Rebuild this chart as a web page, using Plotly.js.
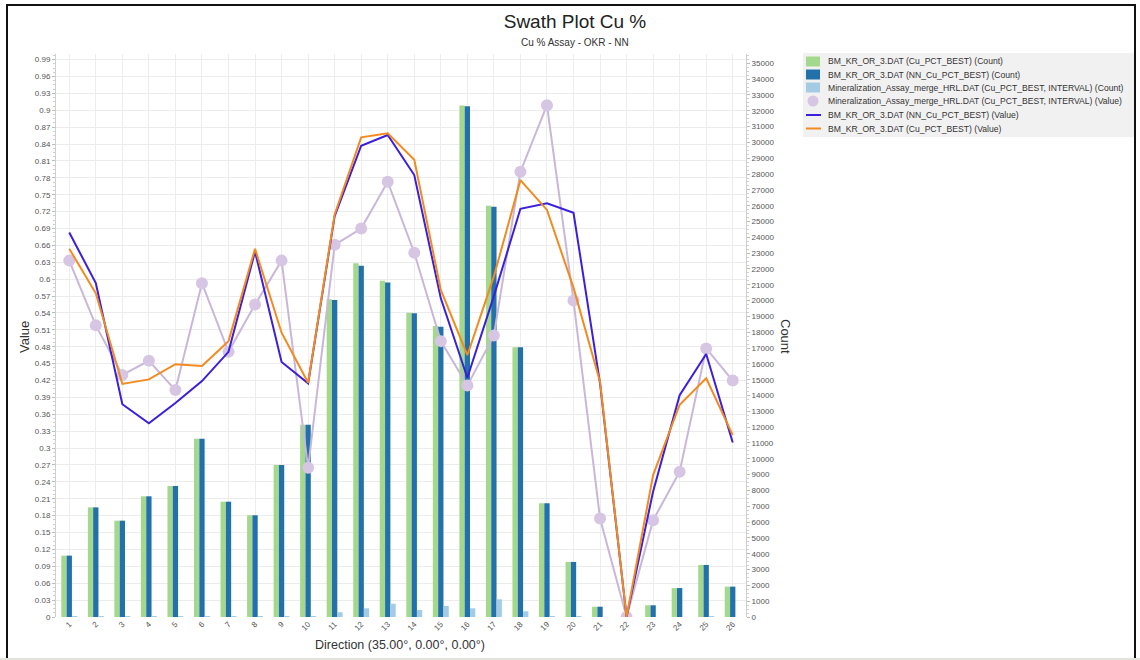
<!DOCTYPE html>
<html>
<head>
<meta charset="utf-8">
<script src="https://cdn.plot.ly/plotly-3.0.1.min.js"></script>
<style>
  html, body { margin: 0; padding: 0; background: #ffffff; }
  #wrap { position: relative; width: 1140px; height: 660px; overflow: hidden; }
  #chart { position: absolute; left: 0; top: 0; width: 1140px; height: 660px; }
  #frame { position: absolute; left: 6px; top: 4px; width: 1126px; height: 670px;
           border-left: 2px solid #111; border-top: 2px solid #111; border-right: 2px solid #111;
           pointer-events: none; }
  #foot { position: absolute; left: 0; bottom: 0; width: 1140px; height: 2px; background: #e4e2dc; }
</style>
</head>
<body>
<div id="wrap">
  <div id="chart"></div>
  <div id="frame"></div>
  <div id="foot"></div>
</div>
<script>
// Swath directions (bins along 35.00°, 0.00°, 0.00°)
const directions = [1, 2, 3, 4, 5, 6, 7, 8, 9, 10, 11, 12, 13, 14, 15, 16, 17, 18, 19, 20, 21, 22, 23, 24, 25, 26];
const directionLabels = directions.map(String);

// Sample counts per swath (right axis)
const countBest = [3880, 6930, 6090, 7630, 8280, 11270, 7290, 6430, 9610, 12160, 20080, 22360, 21260, 19240, 18390, 32340, 26000, 17050, 7190, 3480, 650, 0, 740, 1830, 3290, 1920];
const countNN = [3880, 6930, 6090, 7630, 8280, 11270, 7290, 6430, 9610, 12160, 20040, 22210, 21150, 19200, 18350, 32280, 25940, 17050, 7190, 3480, 650, 0, 740, 1830, 3290, 1920];
const countAssay = [50, 50, 40, 50, 50, 40, 50, 50, 50, 50, 300, 550, 840, 440, 700, 550, 1120, 360, 40, 20, 0, 0, 0, 0, 20, 0];

// Mean Cu % per swath (left axis)
const valueAssay = [0.633, 0.518, 0.430, 0.455, 0.403, 0.593, 0.471, 0.555, 0.633, 0.265, 0.661, 0.690, 0.773, 0.647, 0.490, 0.411, 0.500, 0.791, 0.909, 0.562, 0.175, 0, 0.172, 0.258, 0.477, 0.420];
const valueNN = [0.683, 0.593, 0.378, 0.344, 0.380, 0.419, 0.471, 0.649, 0.453, 0.415, 0.712, 0.837, 0.856, 0.785, 0.566, 0.425, 0.570, 0.725, 0.735, 0.718, 0.415, 0, 0.223, 0.394, 0.467, 0.310];
const valueBest = [0.654, 0.575, 0.414, 0.422, 0.449, 0.446, 0.490, 0.654, 0.505, 0.416, 0.715, 0.852, 0.859, 0.812, 0.581, 0.465, 0.605, 0.776, 0.723, 0.585, 0.418, 0, 0.252, 0.377, 0.424, 0.323];

const seriesNames = [
  'BM_KR_OR_3.DAT (Cu_PCT_BEST) (Count)',
  'BM_KR_OR_3.DAT (NN_Cu_PCT_BEST) (Count)',
  'Mineralization_Assay_merge_HRL.DAT (Cu_PCT_BEST, INTERVAL) (Count)',
  'Mineralization_Assay_merge_HRL.DAT (Cu_PCT_BEST, INTERVAL) (Value)',
  'BM_KR_OR_3.DAT (NN_Cu_PCT_BEST) (Value)',
  'BM_KR_OR_3.DAT (Cu_PCT_BEST) (Value)'
];

const C_GREEN = '#a4d88c';
const C_BLUE = '#2271aa';
const C_LIGHT = '#a3cbe4';
const C_LAV = '#d6c6e4';
const C_LAVLINE = '#c9b7da';
const C_NN = '#3a1fdc';
const C_ORANGE = '#f28a1e';

const FONT = 'Liberation Sans, Arial, sans-serif';

const traces = [
  { type: 'bar', x: directions, y: countBest, name: seriesNames[0], marker: { color: C_GREEN }, yaxis: 'y', showlegend: false, hoverinfo: 'x+y' },
  { type: 'bar', x: directions, y: countNN, name: seriesNames[1], marker: { color: C_BLUE }, yaxis: 'y', showlegend: false, hoverinfo: 'x+y' },
  { type: 'bar', x: directions, y: countAssay, name: seriesNames[2], marker: { color: C_LIGHT }, yaxis: 'y', showlegend: false, hoverinfo: 'x+y' },
  { type: 'scatter', mode: 'lines+markers', x: directions, y: valueAssay, name: seriesNames[3], yaxis: 'y2',
    line: { color: C_LAVLINE, width: 2 }, marker: { color: C_LAV, size: 12, line: { width: 0 } }, showlegend: false },
  { type: 'scatter', mode: 'lines', x: directions, y: valueNN, name: seriesNames[4], yaxis: 'y2',
    line: { color: C_NN, width: 2 }, showlegend: false },
  { type: 'scatter', mode: 'lines', x: directions, y: valueBest, name: seriesNames[5], yaxis: 'y2',
    line: { color: C_ORANGE, width: 2 }, showlegend: false }
];

// Plot area in pixels
const M = { l: 56, r: 394, t: 54, b: 43 };
const W = 1140 - M.l - M.r;
const H = 660 - M.t - M.b;
const px = v => (v - M.l) / W;
const py = v => (660 - M.b - v) / H;

// Legend block drawn beside the plot
const legendShapes = [
  { type: 'rect', xref: 'paper', yref: 'paper', x0: px(803), x1: px(1134), y0: py(137), y1: py(53),
    fillcolor: '#f1f1f1', line: { width: 0 }, layer: 'below' }
];
const rowY = [61.5, 74.5, 87.5, 101, 115, 128.5];
const swatchColors = [C_GREEN, C_BLUE, C_LIGHT];
swatchColors.forEach((c, i) => {
  legendShapes.push({ type: 'rect', xref: 'paper', yref: 'paper',
    x0: px(806), x1: px(820), y0: py(rowY[i] + 5), y1: py(rowY[i] - 5),
    fillcolor: c, line: { width: 0 } });
});
legendShapes.push({ type: 'circle', xref: 'paper', yref: 'paper',
  x0: px(807.5), x1: px(818.5), y0: py(rowY[3] + 5.5), y1: py(rowY[3] - 5.5),
  fillcolor: C_LAV, line: { width: 0 } });
[[C_NN, 4], [C_ORANGE, 5]].forEach(([c, i]) => {
  legendShapes.push({ type: 'line', xref: 'paper', yref: 'paper',
    x0: px(806), x1: px(821), y0: py(rowY[i]), y1: py(rowY[i]),
    line: { color: c, width: 2 } });
});
const legendLabels = seriesNames.map((t, i) => ({
  xref: 'paper', yref: 'paper', x: px(826), y: py(rowY[i]), xanchor: 'left', yanchor: 'middle',
  text: t, showarrow: false, font: { family: FONT, size: 8.6, color: '#333' }
}));

const annotations = [
  { xref: 'paper', yref: 'paper', x: px(575), y: py(43), text: 'Cu % Assay - OKR - NN', showarrow: false,
    xanchor: 'center', yanchor: 'middle', font: { family: FONT, size: 10, color: '#333' } },
  { xref: 'paper', yref: 'paper', x: px(25), y: py(337), text: 'Value', textangle: -90, showarrow: false,
    xanchor: 'center', yanchor: 'middle', font: { family: FONT, size: 13, color: '#333' } },
  { xref: 'paper', yref: 'paper', x: px(785), y: py(337), text: 'Count', textangle: 90, showarrow: false,
    xanchor: 'center', yanchor: 'middle', font: { family: FONT, size: 13, color: '#333' } },
  { xref: 'paper', yref: 'paper', x: px(400), y: py(645), text: 'Direction (35.00°, 0.00°, 0.00°)', showarrow: false,
    xanchor: 'center', yanchor: 'middle', font: { family: FONT, size: 12.5, color: '#333' } }
].concat(legendLabels);

const layout = {
  width: 1140, height: 660,
  margin: M,
  paper_bgcolor: '#ffffff', plot_bgcolor: '#ffffff',
  font: { family: FONT, size: 8, color: '#555' },
  title: { text: 'Swath Plot Cu %', xref: 'paper', x: px(575), xanchor: 'center',
           yref: 'container', y: 1 - 21 / 660, yanchor: 'middle',
           font: { family: FONT, size: 19, color: '#222' } },
  barmode: 'group', bargap: 0.4, bargroupgap: 0,
  showlegend: false,
  xaxis: {
    range: [0.5, 26.5], tickvals: directions, ticktext: directionLabels, tickangle: -45,
    tickfont: { family: FONT, size: 8, color: '#555' },
    showgrid: true, gridcolor: '#ededed', gridwidth: 1, zeroline: false, showline: false, ticks: ''
  },
  yaxis: {
    side: 'right', range: [0, 35590], tick0: 0, dtick: 1000, tickformat: 'd',
    tickfont: { family: FONT, size: 8, color: '#555' },
    showgrid: false, zeroline: false, showline: true, linecolor: '#cfcfcf', linewidth: 1,
    ticks: 'outside', ticklen: 3, tickcolor: '#bdbdbd',
    minor: { ticks: 'outside', ticklen: 2, dtick: 250, tickcolor: '#d0d0d0' }
  },
  yaxis2: {
    overlaying: 'y', side: 'left', range: [0, 1.0], tick0: 0, dtick: 0.03,
    tickfont: { family: FONT, size: 8, color: '#555' },
    showgrid: true, gridcolor: '#ececec', zeroline: false, showline: true, linecolor: '#cfcfcf', linewidth: 1,
    ticks: 'outside', ticklen: 3, tickcolor: '#bdbdbd',
    minor: { ticks: 'outside', ticklen: 2, dtick: 0.0075, tickcolor: '#d0d0d0' }
  },
  shapes: legendShapes,
  annotations: annotations
};

Plotly.newPlot('chart', traces, layout, { displayModeBar: false, responsive: false });
</script>
</body>
</html>
